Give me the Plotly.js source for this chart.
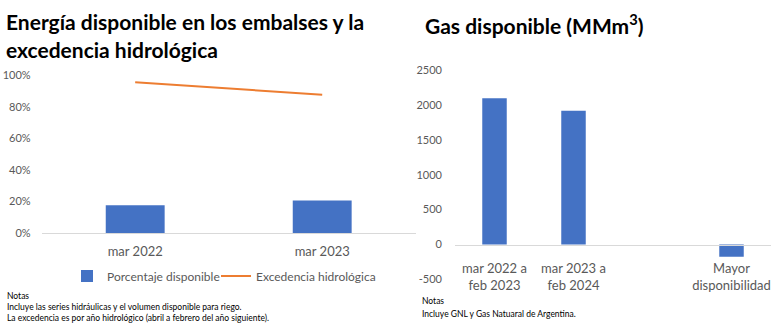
<!DOCTYPE html>
<html>
<head>
<meta charset="utf-8">
<script src="https://cdn.plot.ly/plotly-3.0.1.min.js"></script>
<style>
html,body{margin:0;padding:0;background:#fff;}
#chart{width:774px;height:329px;}
</style>
</head>
<body>
<div id="chart"></div>
<script>
// Left chart data
const leftCategories = ["mar 2022", "mar 2023"];
const porcentajeDisponible = [0.177, 0.207];
const excedenciaHidrologica = [0.954, 0.875];

// Right chart data
const rightCategories = ["mar 2022 a<br>feb 2023", "mar 2023 a<br>feb 2024", " ", "Mayor<br>disponibilidad"];
const gasDisponible = [2095, 1917, null, -175];
const gasTicks = [-500, 0, 500, 1000, 1500, 2000, 2500];

const FONT = "Lato, 'Open Sans', sans-serif";
const BLUE = "#4472C4";
const ORANGE = "#ED7D31";
const GREY = "#595959";
const AXISLINE = "#D9D9D9";

const traces = [
  {
    type: "bar", name: "Porcentaje disponible",
    x: leftCategories, y: porcentajeDisponible,
    xaxis: "x", yaxis: "y", legend: "legend",
    marker: {color: BLUE}, width: 0.315,
    hoverinfo: "skip"
  },
  {
    type: "scatter", mode: "lines", name: "Excedencia hidrológica",
    x: leftCategories, y: excedenciaHidrologica,
    xaxis: "x", yaxis: "y", legend: "legend2",
    line: {color: ORANGE, width: 2},
    hoverinfo: "skip"
  },
  {
    type: "bar", name: "Gas disponible",
    x: rightCategories, y: gasDisponible,
    xaxis: "x2", yaxis: "y2",
    marker: {color: BLUE}, width: 0.31,
    showlegend: false, hoverinfo: "skip"
  }
];

const W = 774, H = 329;
const px = v => v / W;
const py = v => (H - v) / H;

const legendBase = {
  orientation: "h", yanchor: "middle", xanchor: "left",
  font: {family: FONT, size: 12, color: GREY},
  bgcolor: "rgba(0,0,0,0)"
};

const layout = {
  width: W, height: H,
  margin: {l: 0, r: 0, t: 0, b: 0},
  paper_bgcolor: "#fff", plot_bgcolor: "#fff",
  font: {family: FONT, color: GREY, size: 12},
  showlegend: true,
  legend: Object.assign({}, legendBase, {x: px(67), y: py(276)}),
  legend2: Object.assign({}, legendBase, {x: px(216), y: py(276)}),
  xaxis: {
    domain: [px(41.7), px(415.7)], anchor: "y",
    type: "category", range: [-0.5, 1.5],
    showline: true, linecolor: AXISLINE, linewidth: 1,
    ticks: "", showgrid: false, zeroline: false,
    tickfont: {family: FONT, size: 13, color: GREY},
    ticklabelstandoff: 6
  },
  yaxis: {
    domain: [py(233.3), py(75)], anchor: "x",
    range: [0, 1], dtick: 0.2, tickformat: ".0%",
    showgrid: false, zeroline: false, showline: false, ticks: "",
    tickfont: {family: FONT, size: 11, color: GREY},
    ticklabelstandoff: 10
  },
  xaxis2: {
    domain: [px(455), px(771)], anchor: "free",
    position: py(244.5),
    type: "category", range: [-0.5, 3.5],
    categoryorder: "array", categoryarray: rightCategories,
    showline: true, linecolor: AXISLINE, linewidth: 1,
    ticks: "", showgrid: false, zeroline: false,
    tickfont: {family: FONT, size: 13, color: GREY},
    ticklabelstandoff: 12
  },
  yaxis2: {
    domain: [py(279.4), py(70)], anchor: "x2",
    range: [-500.5, 2500.5], tickmode: "array", tickvals: gasTicks,
    ticktext: gasTicks.map(String),
    ticklabeloverflow: "allow",
    showgrid: false, zeroline: false, showline: false, ticks: "",
    tickfont: {family: FONT, size: 11, color: GREY},
    ticklabelstandoff: 12
  },
  annotations: [
    {text: "<b>Energía disponible en los embalses y la</b>", xref: "paper", yref: "paper",
     x: px(4), y: py(22), xanchor: "left", yanchor: "middle", showarrow: false,
     font: {family: FONT, size: 21, color: "#000"}},
    {text: "<b>excedencia hidrológica</b>", xref: "paper", yref: "paper",
     x: px(4), y: py(50), xanchor: "left", yanchor: "middle", showarrow: false,
     font: {family: FONT, size: 21, color: "#000"}},
    {text: "<b>Gas disponible (MMm<sup>3</sup>)</b>", xref: "paper", yref: "paper",
     x: px(423), y: py(24), xanchor: "left", yanchor: "middle", showarrow: false,
     font: {family: FONT, size: 21, color: "#000"}},
    {text: "Notas<br>Incluye las series hidráulicas y el volumen disponible para riego.<br>La excedencia es por año hidrológico (abril a febrero del año siguiente).",
     xref: "paper", yref: "paper", x: px(5), y: py(289), xanchor: "left", yanchor: "top",
     align: "left", showarrow: false,
     font: {family: FONT, size: 8.5, color: "#000"}},
    {text: "Notas",
     xref: "paper", yref: "paper", x: px(420), y: py(301), xanchor: "left", yanchor: "middle",
     align: "left", showarrow: false,
     font: {family: FONT, size: 8.5, color: "#000"}},
    {text: "Incluye GNL y Gas Natuaral de Argentina.",
     xref: "paper", yref: "paper", x: px(420), y: py(314), xanchor: "left", yanchor: "middle",
     align: "left", showarrow: false,
     font: {family: FONT, size: 8.5, color: "#000"}}
  ]
};

Plotly.newPlot("chart", traces, layout, {staticPlot: true, displayModeBar: false});
</script>
</body>
</html>
